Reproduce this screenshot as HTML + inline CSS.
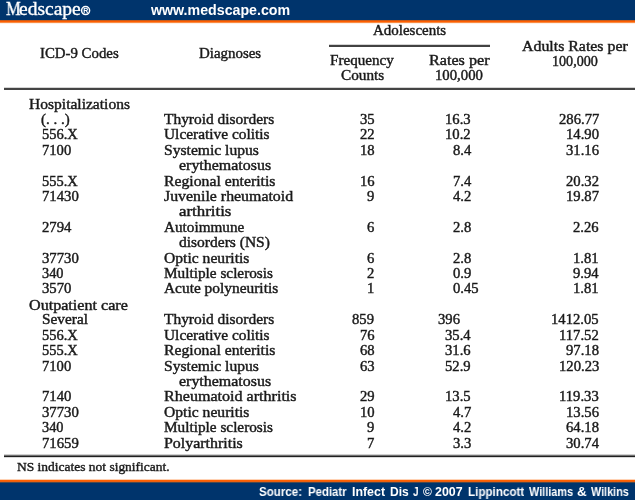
<!DOCTYPE html>
<html><head><meta charset="utf-8"><style>
html,body{margin:0;padding:0;}
body{width:635px;height:500px;position:relative;overflow:hidden;background:#fff;}
.t{position:absolute;white-space:nowrap;transform-origin:0 0;will-change:transform;}
.s{-webkit-text-stroke:0.4px #1a1a1a;}
.bar{position:absolute;left:0;width:635px;}
</style></head><body>
<div class="bar" style="top:0;height:20px;background:#00346c"></div>
<div class="bar" style="top:20px;height:1px;background:#c45a1c"></div>
<div class="bar" style="top:21px;height:1px;background:#ff5e00"></div>
<div class="bar" style="top:22px;height:1px;background:#f88c44"></div>
<div class="bar" style="top:23px;height:1px;background:#fff0e6"></div>
<div class="bar" style="top:479px;height:1px;background:#ffd2b4"></div>
<div class="bar" style="top:480px;height:1px;background:#ff6000"></div>
<div class="bar" style="top:481px;height:1px;background:#ec6010"></div>
<div class="bar" style="top:482px;height:1px;background:#4e4a4c"></div>
<div class="bar" style="top:483px;height:17px;background:#00346c"></div>
<div style="position:absolute;left:329px;top:44px;width:161px;height:1px;background:#d4d4d4"></div>
<div style="position:absolute;left:329px;top:45px;width:161px;height:2px;background:#424242"></div>
<div style="position:absolute;left:4px;top:87px;width:631px;height:1px;background:#d4d4d4"></div>
<div style="position:absolute;left:4px;top:88px;width:631px;height:2px;background:#444"></div>
<div style="position:absolute;left:4px;top:454px;width:631px;height:1px;background:#d0d0d0"></div>
<div style="position:absolute;left:4px;top:455px;width:631px;height:1px;background:#707070"></div>
<div style="position:absolute;left:4px;top:456px;width:631px;height:1px;background:#202020"></div>
<div style="position:absolute;left:4px;top:457px;width:631px;height:1px;background:#d8d8d8"></div>
<div class="t s" style="left:40.20px;top:47.43px;font-size:13.7px;line-height:13.7px;transform:scaleX(1.0839);font-family:'Liberation Serif', serif;color:#1a1a1a;font-weight:normal;">ICD-9 Codes</div>
<div class="t s" style="left:198.70px;top:47.43px;font-size:13.7px;line-height:13.7px;transform:scaleX(1.0903);font-family:'Liberation Serif', serif;color:#1a1a1a;font-weight:normal;">Diagnoses</div>
<div class="t s" style="left:372.60px;top:24.13px;font-size:13.7px;line-height:13.7px;transform:scaleX(1.0934);font-family:'Liberation Serif', serif;color:#1a1a1a;font-weight:normal;">Adolescents</div>
<div class="t s" style="left:330.20px;top:53.73px;font-size:13.7px;line-height:13.7px;transform:scaleX(1.1038);font-family:'Liberation Serif', serif;color:#1a1a1a;font-weight:normal;">Frequency</div>
<div class="t s" style="left:341.30px;top:68.63px;font-size:13.7px;line-height:13.7px;transform:scaleX(1.1145);font-family:'Liberation Serif', serif;color:#1a1a1a;font-weight:normal;">Counts</div>
<div class="t s" style="left:428.70px;top:53.73px;font-size:13.7px;line-height:13.7px;transform:scaleX(1.1801);font-family:'Liberation Serif', serif;color:#1a1a1a;font-weight:normal;">Rates per</div>
<div class="t s" style="left:435.00px;top:68.63px;font-size:13.7px;line-height:13.7px;transform:scaleX(1.0774);font-family:'Liberation Serif', serif;color:#1a1a1a;font-weight:normal;">100,000</div>
<div class="t s" style="left:522.20px;top:39.83px;font-size:13.7px;line-height:13.7px;transform:scaleX(1.1588);font-family:'Liberation Serif', serif;color:#1a1a1a;font-weight:normal;">Adults Rates per</div>
<div class="t s" style="left:551.70px;top:54.63px;font-size:13.7px;line-height:13.7px;transform:scaleX(1.0303);font-family:'Liberation Serif', serif;color:#1a1a1a;font-weight:normal;">100,000</div>
<div class="t s" style="left:28.50px;top:98.43px;font-size:13.7px;line-height:13.7px;transform:scaleX(1.1353);font-family:'Liberation Serif', serif;color:#1a1a1a;font-weight:normal;">Hospitalizations</div>
<div class="t s" style="left:41.30px;top:112.85px;font-size:13.7px;line-height:13.7px;transform:scaleX(1.0933);font-family:'Liberation Serif', serif;color:#1a1a1a;font-weight:normal;">(. . .)</div>
<div class="t s" style="left:164.00px;top:112.85px;font-size:13.7px;line-height:13.7px;transform:scaleX(1.1278);font-family:'Liberation Serif', serif;color:#1a1a1a;font-weight:normal;">Thyroid disorders</div>
<div class="t s" style="left:41.70px;top:128.27px;font-size:13.7px;line-height:13.7px;transform:scaleX(1.0576);font-family:'Liberation Serif', serif;color:#1a1a1a;font-weight:normal;">556.X</div>
<div class="t s" style="left:164.00px;top:128.27px;font-size:13.7px;line-height:13.7px;transform:scaleX(1.1240);font-family:'Liberation Serif', serif;color:#1a1a1a;font-weight:normal;">Ulcerative colitis</div>
<div class="t s" style="left:42.00px;top:143.69px;font-size:13.7px;line-height:13.7px;transform:scaleX(1.0657);font-family:'Liberation Serif', serif;color:#1a1a1a;font-weight:normal;">7100</div>
<div class="t s" style="left:164.00px;top:143.69px;font-size:13.7px;line-height:13.7px;transform:scaleX(1.1398);font-family:'Liberation Serif', serif;color:#1a1a1a;font-weight:normal;">Systemic lupus</div>
<div class="t s" style="left:178.60px;top:159.11px;font-size:13.7px;line-height:13.7px;transform:scaleX(1.1649);font-family:'Liberation Serif', serif;color:#1a1a1a;font-weight:normal;">erythematosus</div>
<div class="t s" style="left:41.60px;top:174.53px;font-size:13.7px;line-height:13.7px;transform:scaleX(1.0547);font-family:'Liberation Serif', serif;color:#1a1a1a;font-weight:normal;">555.X</div>
<div class="t s" style="left:164.00px;top:174.53px;font-size:13.7px;line-height:13.7px;transform:scaleX(1.1495);font-family:'Liberation Serif', serif;color:#1a1a1a;font-weight:normal;">Regional enteritis</div>
<div class="t s" style="left:42.00px;top:189.95px;font-size:13.7px;line-height:13.7px;transform:scaleX(1.0774);font-family:'Liberation Serif', serif;color:#1a1a1a;font-weight:normal;">71430</div>
<div class="t s" style="left:164.00px;top:189.95px;font-size:13.7px;line-height:13.7px;transform:scaleX(1.1593);font-family:'Liberation Serif', serif;color:#1a1a1a;font-weight:normal;">Juvenile rheumatoid</div>
<div class="t s" style="left:178.60px;top:205.37px;font-size:13.7px;line-height:13.7px;transform:scaleX(1.2300);font-family:'Liberation Serif', serif;color:#1a1a1a;font-weight:normal;">arthritis</div>
<div class="t s" style="left:42.00px;top:220.79px;font-size:13.7px;line-height:13.7px;transform:scaleX(1.0766);font-family:'Liberation Serif', serif;color:#1a1a1a;font-weight:normal;">2794</div>
<div class="t s" style="left:164.00px;top:220.79px;font-size:13.7px;line-height:13.7px;transform:scaleX(1.1107);font-family:'Liberation Serif', serif;color:#1a1a1a;font-weight:normal;">Autoimmune</div>
<div class="t s" style="left:178.60px;top:236.21px;font-size:13.7px;line-height:13.7px;transform:scaleX(1.1333);font-family:'Liberation Serif', serif;color:#1a1a1a;font-weight:normal;">disorders (NS)</div>
<div class="t s" style="left:42.00px;top:251.63px;font-size:13.7px;line-height:13.7px;transform:scaleX(1.0774);font-family:'Liberation Serif', serif;color:#1a1a1a;font-weight:normal;">37730</div>
<div class="t s" style="left:164.00px;top:251.63px;font-size:13.7px;line-height:13.7px;transform:scaleX(1.1408);font-family:'Liberation Serif', serif;color:#1a1a1a;font-weight:normal;">Optic neuritis</div>
<div class="t s" style="left:42.00px;top:267.05px;font-size:13.7px;line-height:13.7px;transform:scaleX(1.0462);font-family:'Liberation Serif', serif;color:#1a1a1a;font-weight:normal;">340</div>
<div class="t s" style="left:164.00px;top:267.05px;font-size:13.7px;line-height:13.7px;transform:scaleX(1.1155);font-family:'Liberation Serif', serif;color:#1a1a1a;font-weight:normal;">Multiple sclerosis</div>
<div class="t s" style="left:42.00px;top:282.47px;font-size:13.7px;line-height:13.7px;transform:scaleX(1.0766);font-family:'Liberation Serif', serif;color:#1a1a1a;font-weight:normal;">3570</div>
<div class="t s" style="left:164.00px;top:282.47px;font-size:13.7px;line-height:13.7px;transform:scaleX(1.1250);font-family:'Liberation Serif', serif;color:#1a1a1a;font-weight:normal;">Acute polyneuritis</div>
<div class="t s" style="left:28.50px;top:298.89px;font-size:13.7px;line-height:13.7px;transform:scaleX(1.1767);font-family:'Liberation Serif', serif;color:#1a1a1a;font-weight:normal;">Outpatient care</div>
<div class="t s" style="left:41.70px;top:313.31px;font-size:13.7px;line-height:13.7px;transform:scaleX(1.1192);font-family:'Liberation Serif', serif;color:#1a1a1a;font-weight:normal;">Several</div>
<div class="t s" style="left:164.00px;top:313.31px;font-size:13.7px;line-height:13.7px;transform:scaleX(1.1278);font-family:'Liberation Serif', serif;color:#1a1a1a;font-weight:normal;">Thyroid disorders</div>
<div class="t s" style="left:41.70px;top:328.73px;font-size:13.7px;line-height:13.7px;transform:scaleX(1.0576);font-family:'Liberation Serif', serif;color:#1a1a1a;font-weight:normal;">556.X</div>
<div class="t s" style="left:164.00px;top:328.73px;font-size:13.7px;line-height:13.7px;transform:scaleX(1.1240);font-family:'Liberation Serif', serif;color:#1a1a1a;font-weight:normal;">Ulcerative colitis</div>
<div class="t s" style="left:41.60px;top:344.15px;font-size:13.7px;line-height:13.7px;transform:scaleX(1.0547);font-family:'Liberation Serif', serif;color:#1a1a1a;font-weight:normal;">555.X</div>
<div class="t s" style="left:164.00px;top:344.15px;font-size:13.7px;line-height:13.7px;transform:scaleX(1.1495);font-family:'Liberation Serif', serif;color:#1a1a1a;font-weight:normal;">Regional enteritis</div>
<div class="t s" style="left:42.00px;top:359.57px;font-size:13.7px;line-height:13.7px;transform:scaleX(1.0657);font-family:'Liberation Serif', serif;color:#1a1a1a;font-weight:normal;">7100</div>
<div class="t s" style="left:164.00px;top:359.57px;font-size:13.7px;line-height:13.7px;transform:scaleX(1.1398);font-family:'Liberation Serif', serif;color:#1a1a1a;font-weight:normal;">Systemic lupus</div>
<div class="t s" style="left:178.60px;top:374.99px;font-size:13.7px;line-height:13.7px;transform:scaleX(1.1649);font-family:'Liberation Serif', serif;color:#1a1a1a;font-weight:normal;">erythematosus</div>
<div class="t s" style="left:42.00px;top:390.41px;font-size:13.7px;line-height:13.7px;transform:scaleX(1.0766);font-family:'Liberation Serif', serif;color:#1a1a1a;font-weight:normal;">7140</div>
<div class="t s" style="left:164.00px;top:390.41px;font-size:13.7px;line-height:13.7px;transform:scaleX(1.1743);font-family:'Liberation Serif', serif;color:#1a1a1a;font-weight:normal;">Rheumatoid arthritis</div>
<div class="t s" style="left:42.00px;top:405.83px;font-size:13.7px;line-height:13.7px;transform:scaleX(1.0774);font-family:'Liberation Serif', serif;color:#1a1a1a;font-weight:normal;">37730</div>
<div class="t s" style="left:164.00px;top:405.83px;font-size:13.7px;line-height:13.7px;transform:scaleX(1.1408);font-family:'Liberation Serif', serif;color:#1a1a1a;font-weight:normal;">Optic neuritis</div>
<div class="t s" style="left:42.00px;top:421.25px;font-size:13.7px;line-height:13.7px;transform:scaleX(1.0462);font-family:'Liberation Serif', serif;color:#1a1a1a;font-weight:normal;">340</div>
<div class="t s" style="left:164.00px;top:421.25px;font-size:13.7px;line-height:13.7px;transform:scaleX(1.1155);font-family:'Liberation Serif', serif;color:#1a1a1a;font-weight:normal;">Multiple sclerosis</div>
<div class="t s" style="left:42.00px;top:436.67px;font-size:13.7px;line-height:13.7px;transform:scaleX(1.0774);font-family:'Liberation Serif', serif;color:#1a1a1a;font-weight:normal;">71659</div>
<div class="t s" style="left:164.00px;top:436.67px;font-size:13.7px;line-height:13.7px;transform:scaleX(1.1646);font-family:'Liberation Serif', serif;color:#1a1a1a;font-weight:normal;">Polyarthritis</div>
<div class="t s" style="left:359.74px;top:112.85px;font-size:13.7px;line-height:13.7px;transform:scaleX(1.0700);font-family:'Liberation Serif', serif;color:#1a1a1a;font-weight:normal;">35</div>
<div class="t s" style="left:445.42px;top:112.85px;font-size:13.7px;line-height:13.7px;transform:scaleX(1.0700);font-family:'Liberation Serif', serif;color:#1a1a1a;font-weight:normal;">16.3</div>
<div class="t s" style="left:558.66px;top:112.85px;font-size:13.7px;line-height:13.7px;transform:scaleX(1.0700);font-family:'Liberation Serif', serif;color:#1a1a1a;font-weight:normal;">286.77</div>
<div class="t s" style="left:359.74px;top:128.27px;font-size:13.7px;line-height:13.7px;transform:scaleX(1.0700);font-family:'Liberation Serif', serif;color:#1a1a1a;font-weight:normal;">22</div>
<div class="t s" style="left:445.42px;top:128.27px;font-size:13.7px;line-height:13.7px;transform:scaleX(1.0700);font-family:'Liberation Serif', serif;color:#1a1a1a;font-weight:normal;">10.2</div>
<div class="t s" style="left:565.99px;top:128.27px;font-size:13.7px;line-height:13.7px;transform:scaleX(1.0700);font-family:'Liberation Serif', serif;color:#1a1a1a;font-weight:normal;">14.90</div>
<div class="t s" style="left:359.74px;top:143.69px;font-size:13.7px;line-height:13.7px;transform:scaleX(1.0700);font-family:'Liberation Serif', serif;color:#1a1a1a;font-weight:normal;">18</div>
<div class="t s" style="left:452.75px;top:143.69px;font-size:13.7px;line-height:13.7px;transform:scaleX(1.0700);font-family:'Liberation Serif', serif;color:#1a1a1a;font-weight:normal;">8.4</div>
<div class="t s" style="left:565.99px;top:143.69px;font-size:13.7px;line-height:13.7px;transform:scaleX(1.0700);font-family:'Liberation Serif', serif;color:#1a1a1a;font-weight:normal;">31.16</div>
<div class="t s" style="left:359.74px;top:174.53px;font-size:13.7px;line-height:13.7px;transform:scaleX(1.0700);font-family:'Liberation Serif', serif;color:#1a1a1a;font-weight:normal;">16</div>
<div class="t s" style="left:452.75px;top:174.53px;font-size:13.7px;line-height:13.7px;transform:scaleX(1.0700);font-family:'Liberation Serif', serif;color:#1a1a1a;font-weight:normal;">7.4</div>
<div class="t s" style="left:565.99px;top:174.53px;font-size:13.7px;line-height:13.7px;transform:scaleX(1.0700);font-family:'Liberation Serif', serif;color:#1a1a1a;font-weight:normal;">20.32</div>
<div class="t s" style="left:367.07px;top:189.95px;font-size:13.7px;line-height:13.7px;transform:scaleX(1.0700);font-family:'Liberation Serif', serif;color:#1a1a1a;font-weight:normal;">9</div>
<div class="t s" style="left:452.75px;top:189.95px;font-size:13.7px;line-height:13.7px;transform:scaleX(1.0700);font-family:'Liberation Serif', serif;color:#1a1a1a;font-weight:normal;">4.2</div>
<div class="t s" style="left:565.99px;top:189.95px;font-size:13.7px;line-height:13.7px;transform:scaleX(1.0700);font-family:'Liberation Serif', serif;color:#1a1a1a;font-weight:normal;">19.87</div>
<div class="t s" style="left:367.07px;top:220.79px;font-size:13.7px;line-height:13.7px;transform:scaleX(1.0700);font-family:'Liberation Serif', serif;color:#1a1a1a;font-weight:normal;">6</div>
<div class="t s" style="left:452.75px;top:220.79px;font-size:13.7px;line-height:13.7px;transform:scaleX(1.0700);font-family:'Liberation Serif', serif;color:#1a1a1a;font-weight:normal;">2.8</div>
<div class="t s" style="left:573.32px;top:220.79px;font-size:13.7px;line-height:13.7px;transform:scaleX(1.0700);font-family:'Liberation Serif', serif;color:#1a1a1a;font-weight:normal;">2.26</div>
<div class="t s" style="left:367.07px;top:251.63px;font-size:13.7px;line-height:13.7px;transform:scaleX(1.0700);font-family:'Liberation Serif', serif;color:#1a1a1a;font-weight:normal;">6</div>
<div class="t s" style="left:452.75px;top:251.63px;font-size:13.7px;line-height:13.7px;transform:scaleX(1.0700);font-family:'Liberation Serif', serif;color:#1a1a1a;font-weight:normal;">2.8</div>
<div class="t s" style="left:573.32px;top:251.63px;font-size:13.7px;line-height:13.7px;transform:scaleX(1.0700);font-family:'Liberation Serif', serif;color:#1a1a1a;font-weight:normal;">1.81</div>
<div class="t s" style="left:367.07px;top:267.05px;font-size:13.7px;line-height:13.7px;transform:scaleX(1.0700);font-family:'Liberation Serif', serif;color:#1a1a1a;font-weight:normal;">2</div>
<div class="t s" style="left:452.75px;top:267.05px;font-size:13.7px;line-height:13.7px;transform:scaleX(1.0700);font-family:'Liberation Serif', serif;color:#1a1a1a;font-weight:normal;">0.9</div>
<div class="t s" style="left:573.32px;top:267.05px;font-size:13.7px;line-height:13.7px;transform:scaleX(1.0700);font-family:'Liberation Serif', serif;color:#1a1a1a;font-weight:normal;">9.94</div>
<div class="t s" style="left:367.07px;top:282.47px;font-size:13.7px;line-height:13.7px;transform:scaleX(1.0700);font-family:'Liberation Serif', serif;color:#1a1a1a;font-weight:normal;">1</div>
<div class="t s" style="left:453.02px;top:282.47px;font-size:13.7px;line-height:13.7px;transform:scaleX(1.0700);font-family:'Liberation Serif', serif;color:#1a1a1a;font-weight:normal;">0.45</div>
<div class="t s" style="left:573.32px;top:282.47px;font-size:13.7px;line-height:13.7px;transform:scaleX(1.0700);font-family:'Liberation Serif', serif;color:#1a1a1a;font-weight:normal;">1.81</div>
<div class="t s" style="left:352.41px;top:313.31px;font-size:13.7px;line-height:13.7px;transform:scaleX(1.0700);font-family:'Liberation Serif', serif;color:#1a1a1a;font-weight:normal;">859</div>
<div class="t s" style="left:438.41px;top:313.31px;font-size:13.7px;line-height:13.7px;transform:scaleX(1.0700);font-family:'Liberation Serif', serif;color:#1a1a1a;font-weight:normal;">396</div>
<div class="t s" style="left:551.33px;top:313.31px;font-size:13.7px;line-height:13.7px;transform:scaleX(1.0700);font-family:'Liberation Serif', serif;color:#1a1a1a;font-weight:normal;">1412.05</div>
<div class="t s" style="left:359.74px;top:328.73px;font-size:13.7px;line-height:13.7px;transform:scaleX(1.0700);font-family:'Liberation Serif', serif;color:#1a1a1a;font-weight:normal;">76</div>
<div class="t s" style="left:445.42px;top:328.73px;font-size:13.7px;line-height:13.7px;transform:scaleX(1.0700);font-family:'Liberation Serif', serif;color:#1a1a1a;font-weight:normal;">35.4</div>
<div class="t s" style="left:559.25px;top:328.73px;font-size:13.7px;line-height:13.7px;transform:scaleX(1.0700);font-family:'Liberation Serif', serif;color:#1a1a1a;font-weight:normal;">117.52</div>
<div class="t s" style="left:359.74px;top:344.15px;font-size:13.7px;line-height:13.7px;transform:scaleX(1.0700);font-family:'Liberation Serif', serif;color:#1a1a1a;font-weight:normal;">68</div>
<div class="t s" style="left:445.42px;top:344.15px;font-size:13.7px;line-height:13.7px;transform:scaleX(1.0700);font-family:'Liberation Serif', serif;color:#1a1a1a;font-weight:normal;">31.6</div>
<div class="t s" style="left:565.99px;top:344.15px;font-size:13.7px;line-height:13.7px;transform:scaleX(1.0700);font-family:'Liberation Serif', serif;color:#1a1a1a;font-weight:normal;">97.18</div>
<div class="t s" style="left:359.74px;top:359.57px;font-size:13.7px;line-height:13.7px;transform:scaleX(1.0700);font-family:'Liberation Serif', serif;color:#1a1a1a;font-weight:normal;">63</div>
<div class="t s" style="left:445.42px;top:359.57px;font-size:13.7px;line-height:13.7px;transform:scaleX(1.0700);font-family:'Liberation Serif', serif;color:#1a1a1a;font-weight:normal;">52.9</div>
<div class="t s" style="left:558.66px;top:359.57px;font-size:13.7px;line-height:13.7px;transform:scaleX(1.0700);font-family:'Liberation Serif', serif;color:#1a1a1a;font-weight:normal;">120.23</div>
<div class="t s" style="left:359.74px;top:390.41px;font-size:13.7px;line-height:13.7px;transform:scaleX(1.0700);font-family:'Liberation Serif', serif;color:#1a1a1a;font-weight:normal;">29</div>
<div class="t s" style="left:445.42px;top:390.41px;font-size:13.7px;line-height:13.7px;transform:scaleX(1.0700);font-family:'Liberation Serif', serif;color:#1a1a1a;font-weight:normal;">13.5</div>
<div class="t s" style="left:559.25px;top:390.41px;font-size:13.7px;line-height:13.7px;transform:scaleX(1.0700);font-family:'Liberation Serif', serif;color:#1a1a1a;font-weight:normal;">119.33</div>
<div class="t s" style="left:359.74px;top:405.83px;font-size:13.7px;line-height:13.7px;transform:scaleX(1.0700);font-family:'Liberation Serif', serif;color:#1a1a1a;font-weight:normal;">10</div>
<div class="t s" style="left:452.75px;top:405.83px;font-size:13.7px;line-height:13.7px;transform:scaleX(1.0700);font-family:'Liberation Serif', serif;color:#1a1a1a;font-weight:normal;">4.7</div>
<div class="t s" style="left:565.99px;top:405.83px;font-size:13.7px;line-height:13.7px;transform:scaleX(1.0700);font-family:'Liberation Serif', serif;color:#1a1a1a;font-weight:normal;">13.56</div>
<div class="t s" style="left:367.07px;top:421.25px;font-size:13.7px;line-height:13.7px;transform:scaleX(1.0700);font-family:'Liberation Serif', serif;color:#1a1a1a;font-weight:normal;">9</div>
<div class="t s" style="left:452.75px;top:421.25px;font-size:13.7px;line-height:13.7px;transform:scaleX(1.0700);font-family:'Liberation Serif', serif;color:#1a1a1a;font-weight:normal;">4.2</div>
<div class="t s" style="left:565.99px;top:421.25px;font-size:13.7px;line-height:13.7px;transform:scaleX(1.0700);font-family:'Liberation Serif', serif;color:#1a1a1a;font-weight:normal;">64.18</div>
<div class="t s" style="left:367.07px;top:436.67px;font-size:13.7px;line-height:13.7px;transform:scaleX(1.0700);font-family:'Liberation Serif', serif;color:#1a1a1a;font-weight:normal;">7</div>
<div class="t s" style="left:452.75px;top:436.67px;font-size:13.7px;line-height:13.7px;transform:scaleX(1.0700);font-family:'Liberation Serif', serif;color:#1a1a1a;font-weight:normal;">3.3</div>
<div class="t s" style="left:565.99px;top:436.67px;font-size:13.7px;line-height:13.7px;transform:scaleX(1.0700);font-family:'Liberation Serif', serif;color:#1a1a1a;font-weight:normal;">30.74</div>
<div class="t s" style="left:16.70px;top:460.21px;font-size:13px;line-height:13px;transform:scaleX(1.0360);font-family:'Liberation Serif', serif;color:#1a1a1a;font-weight:normal;">NS indicates not significant.</div>
<div class="t" style="left:151.35px;top:3.07px;font-size:14px;line-height:14px;transform:scaleX(1.0142);font-family:'Liberation Sans', sans-serif;color:#fff;font-weight:bold;">www.medscape.com</div>
<div class="t" style="left:259.40px;top:486.35px;font-size:12px;line-height:12px;transform:scaleX(0.9620);font-family:'Liberation Sans', sans-serif;color:#fff;font-weight:bold;">Source:</div>
<div class="t" style="left:307.90px;top:486.35px;font-size:12px;line-height:12px;transform:scaleX(0.9484);font-family:'Liberation Sans', sans-serif;color:#fff;font-weight:bold;">Pediatr</div>
<div class="t" style="left:352.00px;top:486.35px;font-size:12px;line-height:12px;transform:scaleX(1.0312);font-family:'Liberation Sans', sans-serif;color:#fff;font-weight:bold;">Infect</div>
<div class="t" style="left:389.90px;top:486.35px;font-size:12px;line-height:12px;transform:scaleX(1.0053);font-family:'Liberation Sans', sans-serif;color:#fff;font-weight:bold;">Dis</div>
<div class="t" style="left:413.00px;top:486.35px;font-size:12px;line-height:12px;transform:scaleX(0.8421);font-family:'Liberation Sans', sans-serif;color:#fff;font-weight:bold;">J</div>
<div class="t" style="left:423.00px;top:486.35px;font-size:12px;line-height:12px;transform:scaleX(0.9944);font-family:'Liberation Sans', sans-serif;color:#fff;font-weight:bold;">©</div>
<div class="t" style="left:435.10px;top:486.35px;font-size:12px;line-height:12px;transform:scaleX(1.0337);font-family:'Liberation Sans', sans-serif;color:#fff;font-weight:bold;">2007</div>
<div class="t" style="left:467.70px;top:486.35px;font-size:12px;line-height:12px;transform:scaleX(0.9690);font-family:'Liberation Sans', sans-serif;color:#fff;font-weight:bold;">Lippincott</div>
<div class="t" style="left:528.90px;top:486.35px;font-size:12px;line-height:12px;transform:scaleX(0.9074);font-family:'Liberation Sans', sans-serif;color:#fff;font-weight:bold;">Williams</div>
<div class="t" style="left:577.10px;top:486.35px;font-size:12px;line-height:12px;transform:scaleX(1.1214);font-family:'Liberation Sans', sans-serif;color:#fff;font-weight:bold;">&amp;</div>
<div class="t" style="left:590.90px;top:486.35px;font-size:12px;line-height:12px;transform:scaleX(0.8998);font-family:'Liberation Sans', sans-serif;color:#fff;font-weight:bold;">Wilkins</div>
<div class="t" id="logoM" style="left:5.5px;top:-1px;font-size:19.5px;line-height:20px;transform:scaleX(0.85);font-family:'Liberation Serif',serif;color:#fff;-webkit-text-stroke:0.35px #fff">M</div>
<div class="t" id="logo" style="left:19px;top:-1px;font-size:19.5px;line-height:20px;letter-spacing:0px;transform:scaleX(1.0);font-family:'Liberation Serif',serif;color:#fff;-webkit-text-stroke:0.35px #fff">edscape</div>
<svg style="position:absolute;left:80px;top:5px" width="12" height="12" viewBox="0 0 12 12"><circle cx="5.6" cy="5.6" r="4.0" fill="none" stroke="#fff" stroke-width="1.5"/><text x="5.7" y="8.2" text-anchor="middle" font-family="Liberation Sans" font-weight="bold" font-size="7" fill="#fff">R</text></svg>
</body></html>
